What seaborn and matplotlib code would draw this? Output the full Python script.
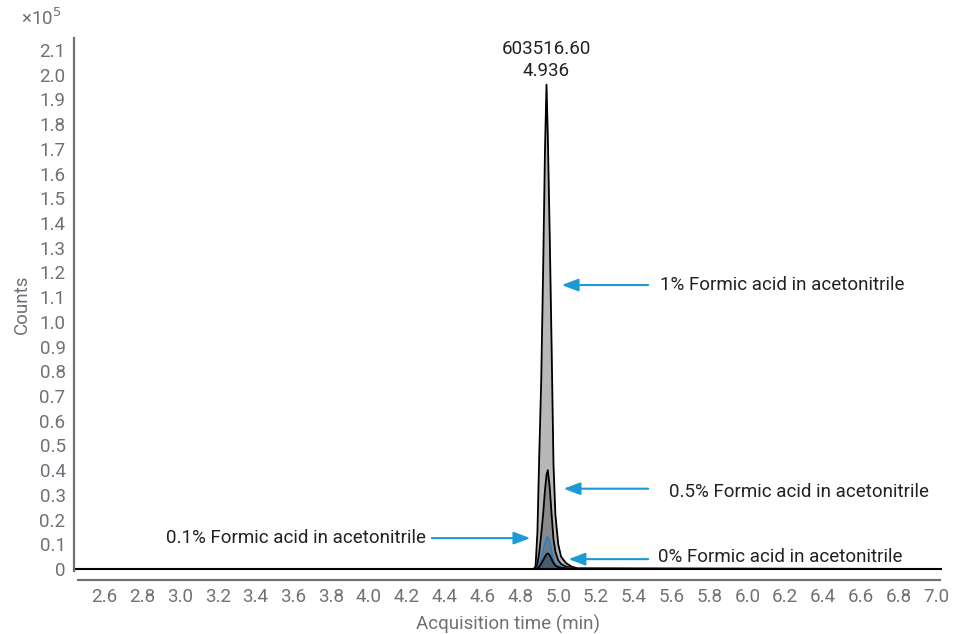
import matplotlib
matplotlib.use("Agg")
import matplotlib.pyplot as plt
import seaborn as sns
import numpy as np

# retention time (min) and counts (x10^5)
time = [2.46, 4.87, 4.88, 4.89, 4.90, 4.91, 4.92, 4.93, 4.938, 4.945, 4.955,
        4.965, 4.975, 4.985, 5.0, 5.015, 5.04, 5.07, 5.1, 7.02]
fa_1 = [0, 0, 0.01, 0.15, 0.47, 0.76, 1.2, 1.7, 1.96, 1.75, 1.35, 0.9, 0.42,
        0.22, 0.1, 0.05, 0.025, 0.01, 0.003, 0]
fa_05 = [0, 0, 0.002, 0.02, 0.07, 0.14, 0.22, 0.32, 0.38, 0.40, 0.33, 0.22,
         0.12, 0.07, 0.035, 0.02, 0.01, 0.005, 0.001, 0]
fa_01 = [0, 0, 0, 0.005, 0.02, 0.045, 0.075, 0.105, 0.125, 0.13, 0.11, 0.075,
         0.04, 0.022, 0.012, 0.007, 0.004, 0.002, 0, 0]
fa_0 = [0, 0, 0, 0.003, 0.01, 0.022, 0.036, 0.05, 0.06, 0.063, 0.056, 0.04,
        0.024, 0.014, 0.008, 0.005, 0.003, 0.001, 0, 0]

peak_area = "603516.60"
peak_rt = "4.936"

labels = ["1% Formic acid in acetonitrile", "0.5% Formic acid in acetonitrile",
          "0.1% Formic acid in acetonitrile", "0% Formic acid in acetonitrile"]

sns.set_style("white")
plt.rcParams['font.family'] = ['Roboto', 'DejaVu Sans']
grey = "#6e7177"
blue = "#1b9ad6"
txt = "#222222"
fs = 13.5

fig = plt.figure(figsize=(9.68, 6.34), dpi=100)
ax = fig.add_axes([0.0764, 0.0986, 0.897, 0.842])

traces = [(fa_1, "#b8b8b8", "black"), (fa_05, "#8a8a8a", "black"),
          (fa_01, "#687c8e", "#2f7fc1"), (fa_0, "#4a5a69", "black")]
for vals, fc, ec in traces:
    ax.fill_between(time, vals, 0, color=fc, lw=0)
    sns.lineplot(x=time, y=vals, ax=ax, color=ec, lw=1.3, sort=False)

ax.axhline(0, xmin=0, xmax=1, color="black", lw=1.5)

ax.set_xlim(2.44, 7.03)
ax.set_ylim(-0.01, 2.15)
ax.set_xticks(np.round(np.arange(2.6, 7.01, 0.2), 1))
ax.set_xticklabels([f"{t:.1f}" for t in np.arange(2.6, 7.01, 0.2)])
yt = np.round(np.arange(0, 2.11, 0.1), 1)
ax.set_yticks(yt)
ax.set_yticklabels(["0"] + [f"{v:.1f}" for v in yt[1:]])

for s in ["top", "right"]:
    ax.spines[s].set_visible(False)
ax.spines["bottom"].set_position(("outward", 6))
ax.spines["bottom"].set_bounds(2.46, 7.02)
for s in ["left", "bottom"]:
    ax.spines[s].set_color(grey)
    ax.spines[s].set_linewidth(1.6)
ax.tick_params(axis="both", colors=grey, labelsize=fs, length=3, width=1.2,
               direction="out", pad=3)

ax.set_xlabel("Acquisition time (min)", color=grey, fontsize=fs, labelpad=6)
ax.set_ylabel("Counts", color=grey, fontsize=fs, labelpad=6)
fig.text(0.043, 0.971, "×10$^5$", color=grey, fontsize=fs, ha="center", va="center")

ax.text(4.936, 2.105, peak_area, ha="center", va="center", fontsize=fs,
        color=txt, clip_on=False)
ax.text(4.936, 2.015, peak_rt, ha="center", va="center", fontsize=fs,
        color=txt, clip_on=False)

arrow = dict(arrowstyle="-|>,head_width=0.38,head_length=1.0", color=blue, lw=1.5)
ax.annotate("", xy=(5.004, 1.149), xytext=(5.49, 1.149), arrowprops=arrow)
ax.text(5.54, 1.149, labels[0], ha="left", va="center", fontsize=fs, color=txt)
ax.annotate("", xy=(5.014, 0.325), xytext=(5.49, 0.325), arrowprops=arrow)
ax.text(5.585, 0.313, labels[1], ha="left", va="center", fontsize=fs, color=txt)
ax.annotate("", xy=(4.867, 0.125), xytext=(4.317, 0.125), arrowprops=arrow)
ax.text(4.30, 0.125, labels[2], ha="right", va="center", fontsize=fs, color=txt)
ax.annotate("", xy=(5.04, 0.04), xytext=(5.49, 0.04), arrowprops=arrow)
ax.text(5.527, 0.048, labels[3], ha="left", va="center", fontsize=fs, color=txt)

fig.savefig("out.png", dpi=100)
